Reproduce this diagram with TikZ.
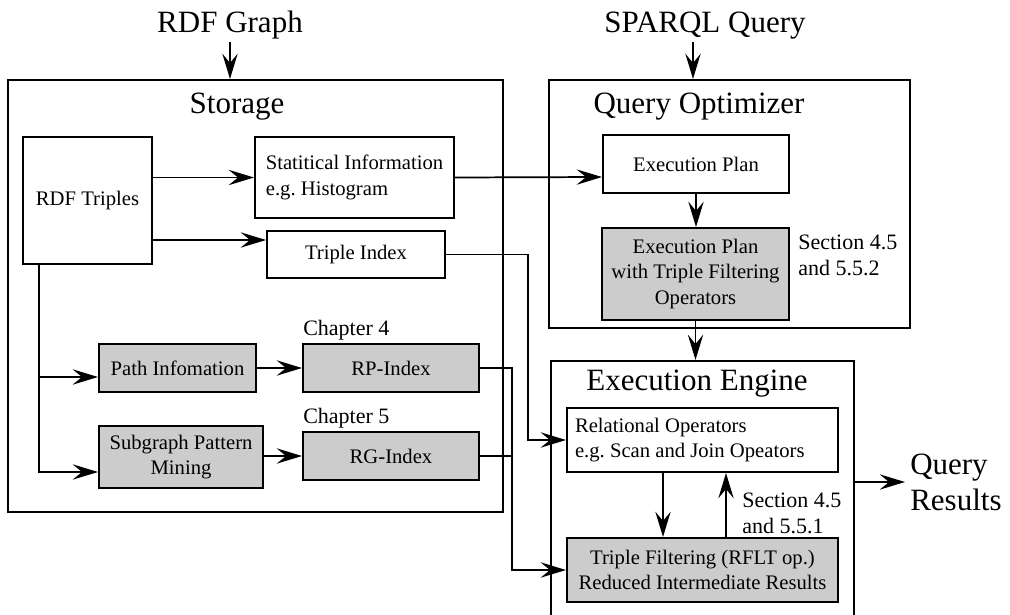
\documentclass[tikz,border=0pt]{standalone}
\usepackage{fontspec}
\setmainfont{Liberation Serif}
\usetikzlibrary{arrows.meta,calc}
\definecolor{boxgray}{gray}{0.8}
\newcommand\boxfont{\fontsize{15.5}{19}\selectfont}
\newcommand\titlefont{\fontsize{23.25}{27}\selectfont}
\newcommand\notefont{\fontsize{16.5}{19.5}\selectfont}
\frenchspacing
\begin{document}
\begin{tikzpicture}[x=0.75pt,y=-0.75pt,
  box/.style={draw,line width=1.5pt,inner sep=0pt,align=center,font=\boxfont},
  shaded/.style={box,fill=boxgray},
  frame/.style={draw,line width=1.5pt,inner sep=0pt},
  title/.style={font=\titlefont,inner sep=0pt,anchor=base},
  note/.style={font=\notefont,inner sep=0pt,align=left},
  link/.style={line width=1.3pt},
  arr/.style={link,-{Stealth[length=19pt,width=11.5pt,inset=7pt]}}
]
\clip (0,0) rectangle (1010,614);

% containers
\node[frame,minimum width=371.25pt,minimum height=324pt] (storage) at (255.5,296) {};
\node[frame,minimum width=270.75pt,minimum height=186pt] (optimizer) at (729.5,204) {};
\node[frame,minimum width=227.25pt,minimum height=216.75pt] (engine) at (702.5,505.5) {};

% titles
\node[title] (rdfgraph) at (230,32) {RDF Graph};
\node[title] (sparql) at (705,32) {SPARQL Query};
\node[title] (storagetitle) at (237,113) {Storage};
\node[title] (optimizertitle) at (699,113) {Query Optimizer};
\node[title] (enginetitle) at (697,390) {Execution Engine};
\node[title,anchor=west,align=left] (results) at (910,482) {Query\\Results};

% storage contents
\node[box,minimum width=96.75pt,minimum height=95.25pt] (triples) at (87.5,200.5) {RDF Triples};
\node[box,align=left,minimum width=149.25pt,minimum height=60.75pt] (stat) at (354.5,177.5) {Statitical Information\\e.g. Histogram};
\node[box,minimum width=133.5pt,minimum height=35.25pt] (tindex) at (356,254.5) {Triple Index};
\node[shaded,minimum width=117.75pt,minimum height=36pt] (path) at (177.5,368) {Path Infomation};
\node[shaded,minimum width=132pt,minimum height=36pt] (rp) at (391,368) {RP-Index};
\node[shaded,minimum width=123pt,minimum height=46.5pt] (sub) at (181,457) {Subgraph Pattern\\Mining};
\node[shaded,minimum width=132pt,minimum height=36pt] (rg) at (391,456) {RG-Index};
\node[note,anchor=base west] (ch4) at (303,335) {Chapter 4};
\node[note,anchor=base west] (ch5) at (303,423) {Chapter 5};

% optimizer contents
\node[box,minimum width=139.5pt,minimum height=43.5pt] (ep) at (696,164) {Execution Plan};
\node[shaded,minimum width=140.25pt,minimum height=69pt] (epf) at (695.5,274) {Execution Plan\\with Triple Filtering\\Operators};
\node[note,anchor=west] (sec1) at (798,255) {Section 4.5\\and 5.5.2};

% engine contents
\node[draw,line width=1.5pt,font=\boxfont,inner xsep=6pt,inner ysep=0pt,minimum height=48pt] (rel) at (702.5,440)
  {\makebox[191.25pt][l]{\begin{tabular}{@{}l@{}}Relational Operators\\e.g. Scan and Join Opeators\end{tabular}}};
\node[shaded,minimum width=203.25pt,minimum height=48pt] (tf) at (702.5,570) {Triple Filtering (RFLT op.)\\Reduced Intermediate Results};
\node[note,anchor=west] (sec2) at (742,513) {Section 4.5\\and 5.5.1};

% inputs
\draw[arr] ($(rdfgraph.south)+(0,3)$) coordinate (gin) -- (gin |- storage.north);
\draw[arr] ($(sparql.south)+(-12,3)$) coordinate (qin) -- (qin |- optimizer.north);

% storage connectors
\coordinate (tin) at ($(tindex.west)+(0,-14.5)$);
\coordinate (spine) at ($(triples.south west)+(17,0)$);
\coordinate (pin) at ($(path.west)+(0,9)$);
\coordinate (sin) at ($(sub.west)+(0,15)$);
\draw[arr] (triples.east |- stat.west) -- (stat.west);
\draw[arr] (triples.east |- tin) -- (tin);
\draw[arr] (spine) |- (sin);
\draw[arr] (spine |- pin) -- (pin);
\draw[arr] (path) -- (rp);
\draw[arr] (sub.east |- rg.west) -- (rg.west);

% cross-component connectors
\draw[arr] (stat.east) -- ($(ep.west)+(0,13)$);
\draw[arr] (tindex.east) -- ++(82,0) |- (rel.west);
\draw[arr] (rp.east) -- ++(32,0) |- (tf.west);
\draw[link] (rg.east) -- ++(32,0);

% optimizer and engine flow
\draw[arr] (ep.south) -- (ep.south |- epf.north);
\draw[arr] (epf.south) -- (epf.south |- engine.north);
\draw[arr] ($(rel.south)+(-39.5,0)$) coordinate (dn) -- (dn |- tf.north);
\draw[arr] ($(tf.north)+(23.5,0)$) coordinate (up) -- (up |- rel.south);
\draw[arr] (engine.east |- results.west) -- ($(results.west)+(-5,0)$);
\end{tikzpicture}
\end{document}
